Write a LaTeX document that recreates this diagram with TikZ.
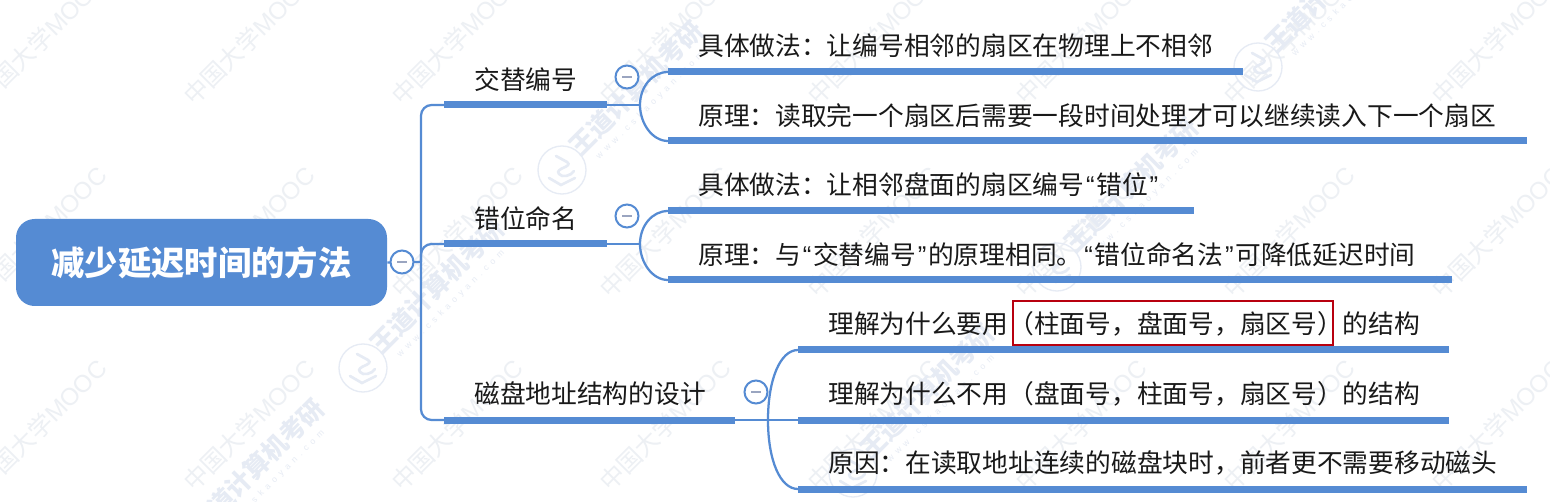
\documentclass[tikz,border=0pt]{standalone}
\usepackage{fontspec}
\usetikzlibrary{calc}
\setmainfont{Noto Sans CJK SC}
\newfontfamily\latinfont{Liberation Sans}
\newfontfamily\spacedfont[LetterSpace=55]{Liberation Sans}
\newcommand{\qcolon}{\char"FF1A\relax}
\newcommand{\qcomma}{\char"FF0C\relax}
\newcommand{\qlp}{\char"FF08\relax}
\newcommand{\qrp}{\char"FF09\relax}
\newcommand{\qopen}{\kern1.3pt{\latinfont “}\kern1.3pt}
\newcommand{\qclose}{\kern1.3pt{\latinfont ”}\kern1.3pt}
\definecolor{mapblue}{HTML}{558BD3}
\definecolor{wmgrey}{HTML}{EDF0F4}
\definecolor{wmblue}{HTML}{E6EBF4}
\definecolor{minusgrey}{HTML}{9AA5C0}
\definecolor{boxred}{HTML}{B8000F}
\tikzset{
  x=0.75pt,y=-0.75pt,
  rootbox/.style={fill=mapblue,rounded corners=14pt,minimum width=278.25pt,minimum height=65.25pt,inner sep=0pt,text=white,font=\fontsize{25}{25}\selectfont\bfseries},
  label/.style={anchor=west,inner sep=0pt,text=black!90,font=\fontsize{19.3}{19.3}\selectfont},
  bar/.style={draw=mapblue,line width=5.25pt},
  thinline/.style={draw=mapblue,line width=1.7pt},
  toggle/.style={circle,draw=mapblue,line width=1.5pt,fill=white,minimum size=17.25pt,inner sep=0pt},
  minus/.style={draw=minusgrey,line width=1.2pt},
  redbox/.style={draw=boxred,line width=1.7pt},
  wm/.style={rotate=45,text=wmgrey,font=\fontsize{18.2}{18.2}\selectfont},
  wmbold/.style={rotate=45,text=wmblue,font=\fontsize{19}{19}\selectfont\bfseries},
  wmurl/.style={rotate=45,text=wmblue,font=\spacedfont\fontsize{6.5}{6.5}\selectfont},
  wmlogo/.style={draw=wmblue,line width=1pt}
}
\begin{document}
\begin{tikzpicture}
\useasboundingbox (0,0) rectangle (1550,502);
\fill[white] (0,0) rectangle (1550,502);
% watermark: university text
\foreach \i in {0,...,7}{\foreach \j in {-1,0,1}{
  \node[wm] (w\i\j) at ({41+208*\i},{232+193*\j}) {中国大学{\latinfont MOOC}};
}}
% watermark: logo and brand, placed from the logo centre
\foreach \k/\x/\y in {1/183/548,2/363/368,3/562/170,4/853/473,5/1057/267,6/1258/67}{
  \node[wmbold] (wb\k) at ({\x+74},{\y-82}) {王道计算机考研};
  \node[wmurl] (wu\k) at ({\x+88},{\y-64}) {www.cskaoyan.com};
  \draw[wmlogo] (\x,\y) circle (24);
  \draw[wmlogo,line width=2pt,line cap=round] ({\x-6},{\y-14}) -- ({\x+5},{\y-8}) .. controls ({\x+12},{\y-3}) and ({\x-8},{\y-2}) .. ({\x-3},{\y+4}) .. controls ({\x},{\y+8}) and ({\x+9},{\y+6}) .. ({\x+12},{\y+1});
  \draw[wmlogo,line width=2pt,line cap=round] ({\x-13},{\y+8}) -- ({\x-1},{\y+15}) -- ({\x+13},{\y+8});
}
% anchors
\coordinate (c0) at (421,262);
\coordinate (b1s) at (444,105); \coordinate (b1e) at (607,105);
\coordinate (b2s) at (444,244); \coordinate (b2e) at (607,244);
\coordinate (b3s) at (444,420); \coordinate (b3e) at (735,420);
\coordinate (f1) at (640,105); \coordinate (f2) at (640,244); \coordinate (f3) at (768,420);
\coordinate (l1s) at (668,72);  \coordinate (l1e) at (1243,72);
\coordinate (l2s) at (668,141); \coordinate (l2e) at (1527,141);
\coordinate (l3s) at (668,211); \coordinate (l3e) at (1194,211);
\coordinate (l4s) at (668,280); \coordinate (l4e) at (1452,280);
\coordinate (l5s) at (798,350); \coordinate (l5e) at (1449,350);
\coordinate (l6s) at (798,420); \coordinate (l6e) at (1449,420);
\coordinate (l7s) at (798,489); \coordinate (l7e) at (1527,489);
% root
\node[rootbox] (root) at (201.5,262.5) {减少延迟时间的方法};
% connectors
\draw[thinline] (root.east) -- (c0);
\draw[thinline,rounded corners=8pt] (b1s) -| (c0) |- (b3s);
\draw[thinline,rounded corners=8pt] (c0) |- (b2s);
\draw[thinline] (b1e) -- (f1);
\draw[thinline] (b2e) -- (f2);
\draw[thinline] (b3e) -- (f3);
\foreach \f/\a/\b in {f1/l1s/l2s,f2/l3s/l4s}{
  \draw[thinline] (\a) .. controls ($(\a)+(-16,0)$) and ($(\f)+(0,-18)$) .. (\f) .. controls ($(\f)+(0,18)$) and ($(\b)+(-16,0)$) .. (\b);
}
\draw[thinline] (l5s) .. controls ($(l5s)+(-18,0)$) and ($(f3)+(0,-40)$) .. (f3) .. controls ($(f3)+(0,40)$) and ($(l7s)+(-18,0)$) .. (l7s);
\draw[thinline] (f3) -- (l6s);
% bars
\foreach \n in {b1,b2,b3,l1,l2,l3,l4,l5,l6,l7}{\draw[bar] (\n s) -- (\n e);}
% toggles
\foreach \n/\x/\y in {t0/402/262,t1/627/77,t2/627/216,t3/756/392}{
  \node[toggle] (\n) at (\x,\y) {};
  \draw[minus] ($(\n.center)+(-5,0)$) -- ($(\n.center)+(5,0)$);
}
% labels
\node[label] (n1) at (474,80) {交替编号};
\node[label] (n2) at (474,218.5) {错位命名};
\node[label] (n3) at (474,394) {磁盘地址结构的设计};
\node[label] (a1) at (698,46) {具体做法\qcolon 让编号相邻的扇区在物理上不相邻};
\node[label] (a2) at (698,116) {原理\qcolon 读取完一个扇区后需要一段时间处理才可以继续读入下一个扇区};
\node[label] (a3) at (698,185) {具体做法\qcolon 让相邻盘面的扇区编号\qopen 错位\qclose};
\node[label] (a4) at (698,255) {原理\qcolon 与\qopen 交替编号\qclose 的原理相同。\qopen 错位命名法\qclose 可降低延迟时间};
\node[label] (a5) at (828,324) {理解为什么要用\qlp 柱面号\qcomma 盘面号\qcomma 扇区号\qrp 的结构};
\node[label] (a6) at (828,394) {理解为什么不用\qlp 盘面号\qcomma 柱面号\qcomma 扇区号\qrp 的结构};
\node[label] (a7) at (828,463) {原因\qcolon 在读取地址连续的磁盘块时\qcomma 前者更不需要移动磁头};
\draw[redbox] (1013,301) rectangle (1333,345);
\end{tikzpicture}
\end{document}
